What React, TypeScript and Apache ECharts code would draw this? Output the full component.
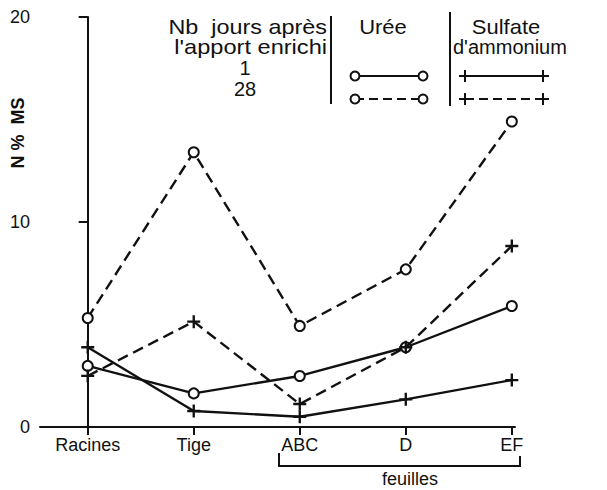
import React, { useEffect, useRef } from "react";
import * as echarts from "echarts";

const categories = ["Racines", "Tige", "ABC", "D", "EF"];
const yTicks = [0, 10, 20];
const uree1 = [2.98, 1.64, 2.49, 3.89, 5.9];
const uree28 = [5.32, 13.4, 4.93, 7.69, 14.9];
const sulfate1 = [3.89, 0.78, 0.5, 1.35, 2.29];
const sulfate28 = [2.49, 5.14, 1.12, 3.89, 8.83];

const FONT = "Liberation Sans";
const FS = 18;
const LFS = 20;
const PLUS = "path://M4.1,0H5.9V4.1H10V5.9H5.9V10H4.1V5.9H0V4.1H4.1Z";

const toPoints = (vals: number[]) => vals.map((v, i) => [i, v]);

export default function App() {
  const ref = useRef<HTMLDivElement>(null);
  useEffect(() => {
    document.body.style.margin = "0";
    const chart = echarts.init(ref.current!, null, { renderer: "svg" });
    const mk = (name: string, vals: number[], dashed: boolean, plus: boolean) => ({
      name,
      type: "line",
      data: toPoints(vals),
      symbol: plus ? PLUS : "emptyCircle",
      symbolSize: plus ? 13 : 10,
      itemStyle: plus
        ? { color: "#111" }
        : { color: "#111", borderColor: "#111", borderWidth: 2 },
      lineStyle: { color: "#111", width: 2.4, type: dashed ? [11, 6] : "solid" },
      z: plus ? 3 : 2,
    });
    const txt = (text: string, x: number, y: number, align = "center", sx = 1) => ({
      type: "text",
      x,
      y,
      scaleX: sx,
      style: {
        text,
        fill: "#111",
        font: `${LFS}px "${FONT}"`,
        textAlign: align,
        textVerticalAlign: "middle",
      },
    });
    const ln = (x1: number, y1: number, x2: number, y2: number, dash?: number[]) => ({
      type: "line",
      shape: { x1, y1, x2, y2 },
      style: { stroke: "#111", lineWidth: 2, lineDash: dash },
    });
    const circ = (cx: number, cy: number) => ({
      type: "circle",
      shape: { cx, cy, r: 4.5 },
      style: { fill: "#fff", stroke: "#111", lineWidth: 2 },
      z: 10,
    });
    const plusG = (cx: number, cy: number) => [
      ln(cx - 6, cy, cx + 6, cy),
      ln(cx, cy - 6, cx, cy + 6),
    ];
    chart.setOption({
      animation: false,
      backgroundColor: "#fff",
      grid: { left: 40, top: 17, width: 475, height: 410, containLabel: false },
      xAxis: {
        type: "value",
        min: -0.45,
        max: 4.03,
        splitLine: { show: false },
        axisLine: { show: true, lineStyle: { color: "#111", width: 2 } },
        axisTick: {
          show: true,
          customValues: [0, 1, 2, 3, 4],
          length: 8,
          lineStyle: { color: "#111", width: 2 },
        },
        axisLabel: {
          customValues: [0, 1, 2, 3, 4],
          formatter: (v: number) => categories[Math.round(v)],
          color: "#111",
          fontFamily: FONT,
          fontSize: FS,
          margin: 9,
        },
      },
      yAxis: {
        type: "value",
        min: 0,
        max: 20,
        interval: 10,
        splitLine: { show: false },
        axisLine: { show: true, lineStyle: { color: "#111", width: 2 } },
        axisTick: { show: true, length: 9, lineStyle: { color: "#111", width: 2 } },
        axisLabel: {
          color: "#111",
          fontFamily: FONT,
          fontSize: FS,
          margin: 10,
          formatter: (v: number) => (yTicks.includes(v) ? String(v) : ""),
        },
      },
      series: [
        mk("Urée 1", uree1, false, false),
        mk("Urée 28", uree28, true, false),
        mk("Sulfate 1", sulfate1, false, true),
        mk("Sulfate 28", sulfate28, true, true),
      ],
      graphic: [
        {
          type: "text",
          x: 18,
          y: 133,
          rotation: Math.PI / 2,
          style: {
            text: "N %  MS",
            fill: "#111",
            font: `bold ${FS}px "${FONT}"`,
            textAlign: "center",
            textVerticalAlign: "middle",
          },
        },
        txt("Nb  jours après", 327, 27, "right", 1.17),
        txt("l'apport enrichi", 327, 47, "right", 1.18),
        txt("1", 245, 68),
        txt("28", 245, 89),
        ln(331, 16, 331, 104),
        txt("Urée", 383, 27, "center", 1.1),
        ln(450, 12, 450, 106),
        txt("Sulfate", 506, 27, "center", 1.1),
        txt("d'ammonium", 453, 47, "left"),
        ln(355, 76, 423, 76),
        circ(355, 76),
        circ(423, 76),
        ln(355, 99, 423, 99, [9, 5]),
        circ(355, 99),
        circ(423, 99),
        ln(465, 76, 543, 76),
        ...plusG(465, 76),
        ...plusG(543, 76),
        ln(465, 99, 543, 99, [9, 5]),
        ...plusG(465, 99),
        ...plusG(543, 99),
        {
          type: "polyline",
          shape: { points: [[279, 453], [279, 466], [520, 466], [520, 456]] },
          style: { stroke: "#111", lineWidth: 2, fill: "none" },
        },
        {
          type: "text",
          x: 410,
          y: 479,
          style: {
            text: "feuilles",
            fill: "#111",
            font: `${FS}px "${FONT}"`,
            textAlign: "center",
            textVerticalAlign: "middle",
          },
        },
      ],
    });
    return () => chart.dispose();
  }, []);
  return <div ref={ref} style={{ width: 607, height: 490 }} />;
}
